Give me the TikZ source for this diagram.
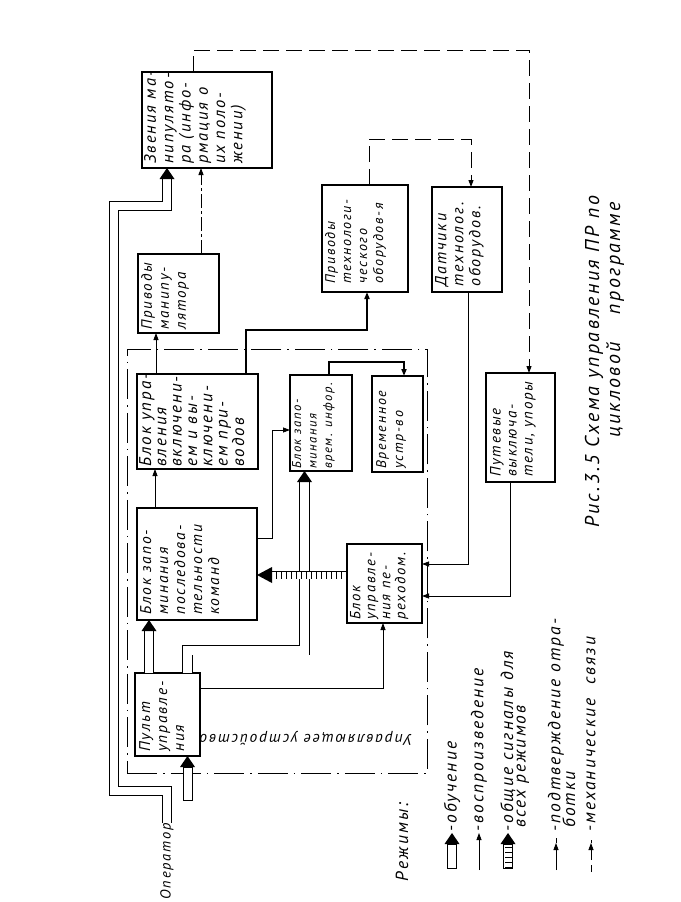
\documentclass[tikz,border=0pt]{standalone}
\usepackage{fontspec}
\setmainfont{PT Sans}
\newfontfamily\hw{PT Sans}[LetterSpace=12]
\usetikzlibrary{arrows.meta,calc}
\newcommand\uphead[1]{\fill (#1) -- ++(-7.5,11) -- ++(15,0) -- cycle;}
\newcommand\lfhead[1]{\fill (#1) -- ++(15,-8) -- ++(0,16) -- cycle;}
\newcommand\hws[2]{\hw\itshape\fontsize{#1}{#2}\selectfont}
\begin{document}
\begin{tikzpicture}[x=1pt,y=-1pt,line join=miter]
\tikzset{
 blk/.style={draw, line width=1.1pt, anchor=north west, inner sep=0pt, outer sep=0pt},
 lbl/.style={rotate=90, anchor=north west, align=left, inner sep=0pt, font=\hws{16}{17}},
 leg/.style={rotate=90, anchor=west, inner sep=0pt, font=\hws{17.5}{18}},
 sarr/.style={-{Triangle[length=7pt,width=5pt]}},
 thinln/.style={line width=0.8pt},
 thickln/.style={line width=2.4pt},
 mech/.style={line width=1pt, dash pattern=on 16pt off 7pt},
 dd/.style={line width=1pt, dash pattern=on 14pt off 3pt on 3pt off 3pt},
 frm/.style={draw, line width=0.9pt, dash pattern=on 30pt off 6pt on 1.5pt off 6pt, anchor=north west, inner sep=0pt},
 hol/.style={double, double distance=#1, line width=0.9pt}, hol/.default=8pt,
 hatchb/.style={line width=7pt, dash pattern=on 1.5pt off 3.5pt},
}
\fill[white] (0,0) rectangle (680,902);
\useasboundingbox (0,0) rectangle (680,902);

% boxes
\node[blk, minimum width=130pt, minimum height=96pt] (zv) at (142,72) {};
\node[blk, minimum width=81pt, minimum height=79pt] (pm) at (138,254) {};
\node[blk, minimum width=86pt, minimum height=107pt] (pt) at (322,185) {};
\node[blk, minimum width=70pt, minimum height=105pt] (dt) at (432,187) {};
\node[blk, minimum width=121pt, minimum height=95pt] (uv) at (137,374) {};
\node[blk, minimum width=62pt, minimum height=96pt] (zvr) at (290,375) {};
\node[blk, minimum width=51pt, minimum height=96pt] (vr) at (372,376) {};
\node[blk, minimum width=69pt, minimum height=109pt] (pv) at (486,373) {};
\node[blk, minimum width=120pt, minimum height=112pt] (zp) at (137,508) {};
\node[blk, minimum width=75pt, minimum height=79pt] (up) at (347,544) {};
\node[blk, minimum width=65pt, minimum height=83pt] (pu) at (135,673) {};
\node[frm, minimum width=300pt, minimum height=424pt] (fr) at (127,349) {};

% labels
\node[lbl, font=\hws{16.5}{17.3}] (zvT) at ($(zv.south west)+(2,-4)$) {Звения ма-\\нипулято-\\ра (инфо-\\рмация о\\их поло-\\жении)};
\node[lbl, font=\hws{15}{17}] (pmT) at ($(pm.south west)+(3,-3)$) {Приводы\\манипу-\\лятора};
\node[lbl, font=\hws{14}{16}] (ptT) at ($(pt.south west)+(3,-8)$) {Приводы\\технологи-\\ческого\\оборудов-я};
\node[lbl, font=\hws{16}{17}] (dtT) at ($(dt.south west)+(3,-5)$) {Датчики\\технолог.\\оборудов.};
\node[lbl, font=\hws{17}{15.3}] (uvT) at ($(uv.south west)+(2,-2)$) {Блок упра-\\вления\\включени-\\ем и вы-\\ключени-\\ем при-\\водов};
\node[lbl, font=\hws{12.7}{15.5}] (zvrT) at ($(zvr.south west)+(2,-2)$) {Блок запо-\\минания\\врем. инфор.};
\node[lbl, font=\hws{14}{17}] (vrT) at ($(vr.south west)+(4,-3)$) {Временное\\устр-во};
\node[lbl, font=\hws{15}{16}] (pvT) at ($(pv.south west)+(4,-5)$) {Путевые\\выключа-\\тели, упоры};
\node[lbl, font=\hws{15.5}{17}] (zpT) at ($(zp.south west)+(3,-5)$) {Блок запо-\\минания\\последова-\\тельности\\команд};
\node[lbl, font=\hws{14.7}{15}] (upT) at ($(up.south west)+(3,-3)$) {Блок\\управле-\\ния пе-\\реходом.};
\node[lbl, font=\hws{15.5}{17}] (puT) at ($(pu.south west)+(4,-4)$) {Пульт\\управле-\\ния};

% connectors
\draw[mech, sarr] ($(zv.north west)+(51,0)$) -- ++(0,-22) -| ($(pv.north west)+(43,0)$);
\coordinate (a2) at ($(pm.north west)+(63,0)$);
\draw[dd, sarr] (a2) -- (a2 |- zv.south);
\coordinate (a3) at ($(uv.north west)+(19,0)$);
\draw[thinln, sarr] (a3) -- (a3 |- pm.south);
\draw[thickln, sarr] ($(uv.north west)+(109,0)$) -- ++(0,-44) -| ($(pt.south west)+(45,0)$);
\draw[mech, sarr] ($(pt.north west)+(47,0)$) -- ++(0,-46) -| ($(dt.north west)+(39,0)$);
\draw[thinln, sarr] ($(dt.south west)+(36,0)$) |- ($(up.north east)+(0,20)$);
\draw[thinln, sarr] ($(pv.south west)+(24,0)$) |- ($(up.north east)+(0,52)$);
\draw[line width=2pt, sarr] ($(zvr.north west)+(39,0)$) -- ++(0,-13) -| ($(vr.north west)+(32,0)$);
\coordinate (a9) at ($(zp.north west)+(18,0)$);
\draw[thinln, sarr] (a9) -- (a9 |- uv.south);
\draw[thinln, sarr] ($(zp.north east)+(0,30)$) -- ++(15,0) |- ($(zvr.north west)+(0,55)$);
% pult -> upr perehodom
\draw[thinln, sarr] ($(pu.north east)+(0,15)$) -| ($(up.south west)+(36,0)$);
% pult -> zap posl (hollow)
\coordinate (t13) at ($(zp.south west)+(12,0)$);
\draw[hol] (t13 |- pu.north) -- ($(t13)+(0,11)$);
\uphead{t13}
% pult -> zap vrem (hollow)
\coordinate (t14) at ($(zvr.south west)+(14.5,0)$);
\draw[hol=9pt] ($(pu.north west)+(52.5,0)$) -- ++(0,-23) -| ($(t14)+(0,11)$);
\uphead{t14}
% hatched common signals
\coordinate (a11) at ($(up.north west)+(0,31)$);
\coordinate (t11) at (a11 -| zp.east);
\draw[hol=7pt] (a11) -- ($(t11)+(15,0)$);
\draw[hatchb] (a11) -- ($(t11)+(15,0)$);
\lfhead{t11}
% operator
\node[rotate=90, anchor=east, inner sep=0pt, font=\hws{14.5}{16}] (opr) at (167,823) {Оператор};
\coordinate (t15) at ($(zv.south west)+(25,0)$);
\draw[hol] (opr.east) -- ++(0,-32) -| (114,206) -| ($(t15)+(0,11)$);
\uphead{t15}
% pult input (hollow)
\coordinate (t16) at ($(pu.south west)+(52.5,0)$);
\draw[line width=0.9pt, fill=white] ($(t16)+(-4.5,44)$) rectangle ($(t16)+(4.5,11)$);
\uphead{t16}

\node[rotate=180, inner sep=0pt, font=\hws{15.5}{16}] (uu) at (306,738) {Управляющее устройство};

% legend
\node[leg, anchor=center] (rez) at (402,842) {Режимы:};
\coordinate (l1) at (452,833);
\draw[line width=0.9pt, fill=white] ($(l1)+(-4.5,35)$) rectangle ($(l1)+(4.5,11)$);
\uphead{l1}
\node[leg] (l1T) at ($(l1)+(0,-1)$) {-обучение};
\coordinate (l2) at (479,833);
\draw[thinln, sarr] ($(l2)+(0,37)$) -- (l2);
\node[leg] (l2T) at ($(l2)+(0,-1)$) {-воспроизведение};
\coordinate (l3) at (508,833);
\draw[line width=0.9pt, fill=white] ($(l3)+(-4.5,35)$) rectangle ($(l3)+(4.5,11)$);
\draw[hatchb] ($(l3)+(0,35)$) -- ($(l3)+(0,11)$);
\uphead{l3}
\node[leg] (l3T) at ($(l3)+(0,-1)$) {-общие сигналы для};
\node[leg] (l3U) at (523,828) {всех режимов};
\coordinate (l4) at (556,838);
\draw[thinln, sarr] ($(l4)+(0,32)$) -- ($(l4)+(0,5)$);
\draw[thinln] ($(l4)+(0,5)$) -- (l4);
\node[leg] (l4T) at ($(l4)+(0,-6)$) {-подтверждение отра-};
\node[leg] (l4U) at (569,828) {ботки};
\coordinate (l5) at (591,840);
\draw[thinln] ($(l5)+(0,32)$) -- ($(l5)+(0,25)$);
\draw[thinln, sarr] ($(l5)+(0,20)$) -- ($(l5)+(0,3)$);
\draw[thinln] ($(l5)+(0,3)$) -- (l5);
\node[leg] (l5T) at ($(l5)+(0,-8)$) {-механические\hspace{14pt}связи};

% caption
\node[rotate=90, anchor=west, inner sep=0pt, font=\hws{20}{21}] (cap1) at (594,528) {Рис.3.5 Схема управления ПР по};
\node[rotate=90, anchor=west, inner sep=0pt, font=\hws{20}{21}] (cap2) at (615,438) {цикловой\hspace{28pt}программе};
\end{tikzpicture}
\end{document}
